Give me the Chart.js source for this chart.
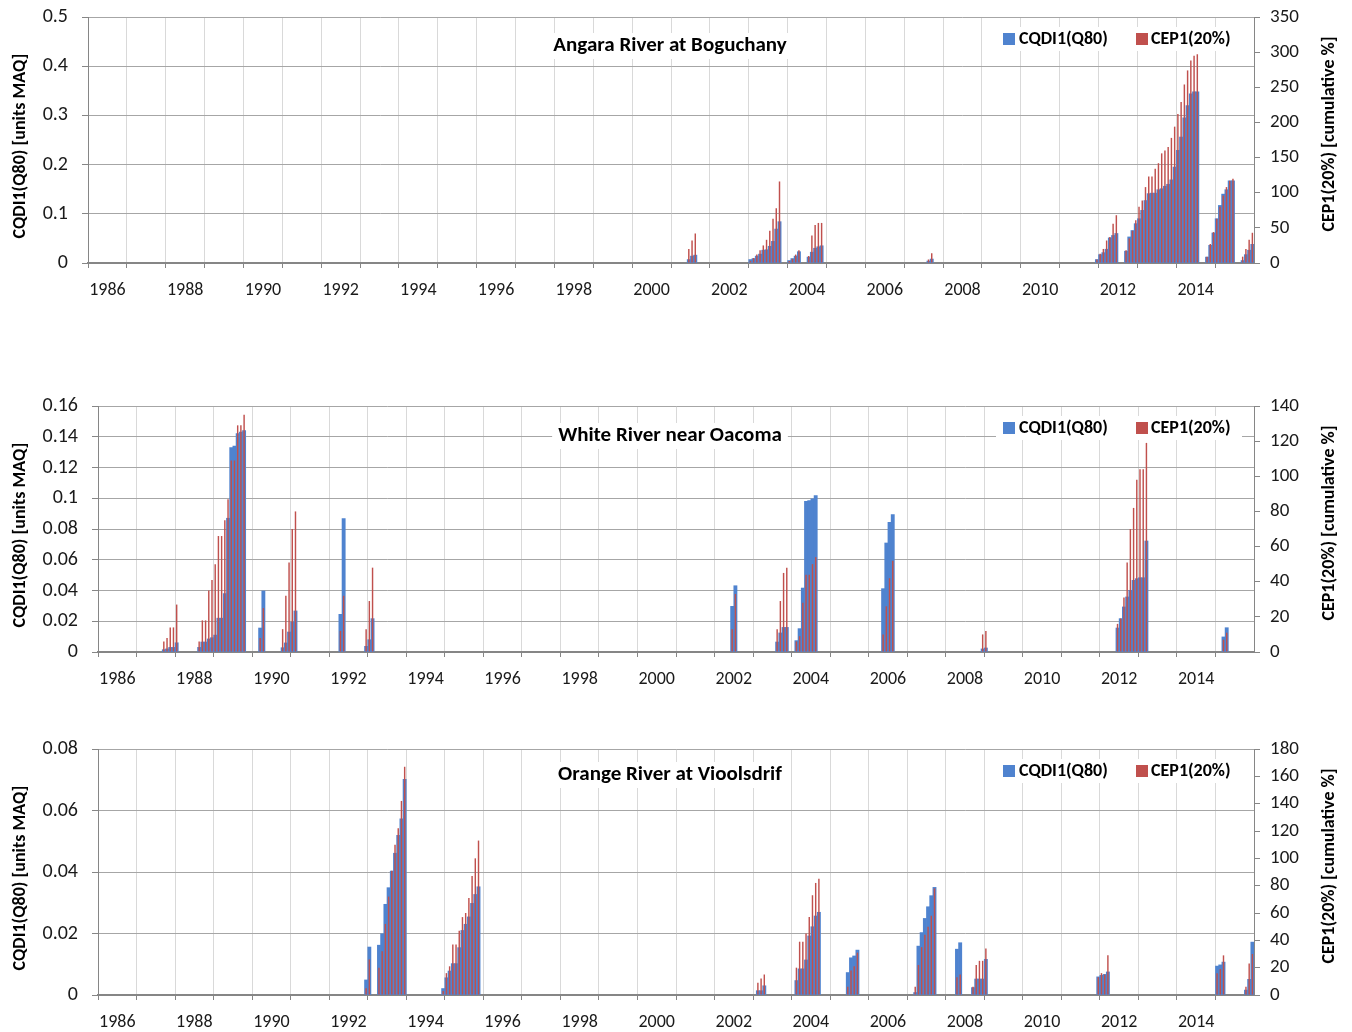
<!DOCTYPE html>
<html>
<head>
<meta charset="utf-8">
<script src="https://cdn.jsdelivr.net/npm/chart.js@4.4.1/dist/chart.umd.min.js"></script>
<style>
  body { margin: 0; background: #fff; width: 1352px; height: 1032px; overflow: hidden; position: relative; }
  canvas { position: absolute; left: 0; }
</style>
</head>
<body>
<canvas id="c1" width="1352" height="310" style="top:0px"></canvas>
<canvas id="c2" width="1352" height="310" style="top:390px"></canvas>
<canvas id="c3" width="1352" height="299" style="top:733px"></canvas>
<script>
// monthly categories Jan 1986 .. Dec 2015
const months = [];
for (let y = 1986; y <= 2015; y++) {
  for (let m = 1; m <= 12; m++) months.push(y + '-' + (m < 10 ? '0' + m : m));
}

// Angara River at Boguchany - each run of months starts at the given month
const angaraStarts = ['2001-06', '2003-01', '2004-01', '2004-07', '2007-08', '2011-12', '2012-09', '2014-10', '2015-09'];
const angaraQ80 = [
  [0.007, 0.014, 0.016],
  [0.007, 0.009, 0.014, 0.018, 0.026, 0.027, 0.034, 0.044, 0.069, 0.084],
  [0.005, 0.009, 0.014, 0.023],
  [0.012, 0.022, 0.030, 0.033, 0.035],
  [0.004, 0.008],
  [0.007, 0.017, 0.021, 0.028, 0.051, 0.056, 0.060],
  [0.024, 0.053, 0.066, 0.080, 0.090, 0.107, 0.127, 0.141, 0.142, 0.142, 0.149, 0.151, 0.156, 0.160, 0.169, 0.195, 0.229, 0.256, 0.295, 0.320, 0.344, 0.348, 0.348],
  [0.012, 0.036, 0.061, 0.090, 0.117, 0.140, 0.149, 0.167, 0.167],
  [0.005, 0.017, 0.026, 0.038]
];
const angaraCEP = [
  [20, 32, 42],
  [3, 7, 12, 18, 25, 33, 46, 63, 78, 116],
  [3, 6, 12, 18],
  [10, 39, 54, 57, 57],
  [5, 14],
  [5, 13, 20, 32, 37, 56, 68],
  [18, 35, 46, 61, 80, 89, 108, 123, 123, 134, 142, 156, 160, 165, 178, 194, 212, 229, 254, 274, 288, 295, 297],
  [9, 27, 44, 63, 80, 96, 108, 117, 120],
  [9, 20, 33, 43]
];

// White River near Oacoma
const whiteStarts = ['1987-09', '1988-08', '1990-03', '1990-10', '1992-04', '1992-12', '2002-06', '2003-08', '2004-02', '2006-05', '2008-12', '2012-06', '2015-03'];
const whiteQ80 = [
  [0.0015, 0.002, 0.003, 0.003, 0.006],
  [0.003, 0.0065, 0.0065, 0.0085, 0.0093, 0.011, 0.022, 0.022, 0.038, 0.087, 0.133, 0.134, 0.142, 0.143, 0.144],
  [0.0156, 0.0397],
  [0.0028, 0.0059, 0.013, 0.0195, 0.0267],
  [0.0245, 0.0867],
  [0.0037, 0.008, 0.0217],
  [0.0297, 0.0431],
  [0.0065, 0.0124, 0.016, 0.016],
  [0.0074, 0.0152, 0.0416, 0.098, 0.0985, 0.0997, 0.1017],
  [0.0412, 0.0709, 0.0843, 0.0893],
  [0.002, 0.0026],
  [0.0156, 0.0217, 0.0293, 0.0358, 0.0401, 0.0466, 0.0477, 0.0483, 0.0483, 0.0722],
  [0.0098, 0.0158]
];
const whiteCEP = [
  [6, 8, 14, 14, 27],
  [6, 18, 18, 35, 41, 50, 66, 66, 75, 87, 109, 109, 129, 129, 135],
  [8, 25],
  [13, 32, 51, 70, 80],
  [12, 32],
  [13, 29, 48],
  [13, 33],
  [13, 29, 45, 48],
  [6, 9, 28, 44, 44, 50, 54],
  [10, 26, 42, 52],
  [10, 12],
  [16, 19, 31, 51, 70, 82, 98, 104, 104, 119],
  [7, 11]
];

// Orange River at Vioolsdrif
const orangeStarts = ['1992-12', '1993-04', '1994-12', '2003-02', '2004-02', '2005-06', '2007-03', '2008-04', '2008-09', '2011-12', '2015-01', '2015-10'];
const orangeQ80 = [
  [0.0049, 0.0156],
  [0.0162, 0.0199, 0.0295, 0.0349, 0.0403, 0.0461, 0.0519, 0.0573, 0.0701],
  [0.0021, 0.0056, 0.0078, 0.0102, 0.0102, 0.0154, 0.021, 0.023, 0.0254, 0.0298, 0.0327, 0.0352],
  [0.0014, 0.0014, 0.003],
  [0.0047, 0.0085, 0.0085, 0.0114, 0.0192, 0.0222, 0.0257, 0.0269],
  [0.0073, 0.0121, 0.0127, 0.0146],
  [0.0008, 0.0159, 0.0203, 0.0249, 0.0287, 0.0323, 0.035],
  [0.0149, 0.017],
  [0.0024, 0.0052, 0.0052, 0.0052, 0.0116],
  [0.0059, 0.0064, 0.0067, 0.0075],
  [0.0094, 0.0098, 0.0107],
  [0.0016, 0.0051, 0.0172]
];
const orangeCEP = [
  [5, 26],
  [20, 32, 52, 72, 91, 110, 122, 142, 167],
  [3, 16, 21, 37, 37, 47, 57, 60, 71, 87, 100, 113],
  [9, 12, 15],
  [20, 39, 39, 45, 57, 73, 82, 85],
  [6, 18, 21, 31],
  [6, 22, 35, 44, 50, 58, 78],
  [13, 15],
  [6, 22, 25, 25, 34],
  [13, 16, 15, 29],
  [16, 19, 29],
  [6, 23, 30]
];

const FONT = 'Carlito, Lato, sans-serif';
const BLUE = '#4f83cf';
const RED = '#c0504d';
const AXIS = '#868686';

function fill(starts, vals) {
  const out = months.map(() => null);
  starts.forEach((s, k) => {
    const i = months.indexOf(s);
    vals[k].forEach((v, j) => { out[i + j] = v; });
  });
  return out;
}

function makeChart(id, cfg) {
  const canvas = document.getElementById(id);
  const plotH = 246;
  const pxMonth = (1352 - cfg.left - 98) / months.length;

  const textPlugin = {
    id: 'panelText',
    beforeDatasetsDraw(chart) {
      const ctx = chart.ctx;
      const ca = chart.chartArea;
      ctx.save();
      // title
      ctx.font = 'bold 21px ' + FONT;
      const tw = ctx.measureText(cfg.title).width;
      const ty = ca.top + cfg.titleDy;
      ctx.fillStyle = '#fff';
      ctx.fillRect(670 - tw / 2 - 6, ty - 13, tw + 12, 26);
      ctx.fillStyle = '#000';
      ctx.textAlign = 'center';
      ctx.textBaseline = 'middle';
      ctx.fillText(cfg.title, 670, ty);
      // legend
      const ly = ca.top + 22;
      ctx.fillStyle = '#fff';
      ctx.fillRect(996, ly - 12, 246, 24);
      ctx.font = 'bold 18px ' + FONT;
      ctx.textAlign = 'left';
      ctx.fillStyle = BLUE;
      ctx.fillRect(1003, ly - 6, 12, 12);
      ctx.fillStyle = RED;
      ctx.fillRect(1136, ly - 6, 12, 12);
      ctx.fillStyle = '#000';
      ctx.fillText('CQDI1(Q80)', 1019, ly);
      ctx.fillText('CEP1(20%)', 1151, ly);
      ctx.restore();
    },
    afterDraw(chart) {
      const ctx = chart.ctx;
      const ca = chart.chartArea;
      const mid = (ca.top + ca.bottom) / 2;
      ctx.save();
      ctx.font = 'bold 18px ' + FONT;
      ctx.fillStyle = '#000';
      ctx.textAlign = 'center';
      ctx.textBaseline = 'middle';
      ctx.translate(20, mid + 6);
      ctx.rotate(-Math.PI / 2);
      ctx.fillText('CQDI1(Q80) [units MAQ]', 0, 0);
      ctx.restore();
      ctx.save();
      ctx.font = 'bold 18px ' + FONT;
      ctx.fillStyle = '#000';
      ctx.textAlign = 'center';
      ctx.textBaseline = 'middle';
      ctx.translate(1329, mid - 6);
      ctx.rotate(-Math.PI / 2);
      ctx.fillText('CEP1(20%) [cumulative %]', 0, 0);
      ctx.restore();
    }
  };

  return new Chart(canvas, {
    type: 'bar',
    data: {
      labels: months,
      datasets: [
        {
          label: 'CEP1(20%)',
          data: fill(cfg.starts, cfg.cep),
          yAxisID: 'y1',
          backgroundColor: RED,
          barPercentage: 0.45,
          categoryPercentage: 1,
          grouped: false,
          order: 0
        },
        {
          label: 'CQDI1(Q80)',
          data: fill(cfg.starts, cfg.q80),
          yAxisID: 'y',
          backgroundColor: BLUE,
          barPercentage: 1,
          categoryPercentage: 1,
          grouped: false,
          order: 1
        }
      ]
    },
    options: {
      responsive: false,
      animation: false,
      layout: { padding: { top: cfg.top, left: 0, right: 0, bottom: 0 } },
      plugins: { legend: { display: false }, tooltip: { enabled: false } },
      scales: {
        x: {
          grid: {
            offset: true,
            color: c => (c.index % 12 === 0 ? '#d9d9d9' : 'rgba(0,0,0,0)'),
            tickColor: c => (c.index % 12 === 0 ? AXIS : 'rgba(0,0,0,0)'),
            tickLength: 5
          },
          border: { color: AXIS, width: 2 },
          ticks: {
            autoSkip: false,
            maxRotation: 0,
            minRotation: 0,
            padding: 12,
            labelOffset: 5.5 * pxMonth,
            color: '#1a1a1a',
            font: { family: FONT, size: 18 },
            callback: (v, i) => (i % 24 === 0 ? String(1986 + i / 12) : '')
          },
          afterFit: s => {
            s.height = canvas.height - cfg.top - plotH;
            s.paddingLeft = 0; s.paddingRight = 0;
          }
        },
        y: {
          position: 'left',
          min: 0,
          max: cfg.qMax,
          ticks: {
            stepSize: cfg.qStep,
            padding: 14,
            color: '#1a1a1a',
            font: { family: FONT, size: 20 },
            callback: v => String(+v.toFixed(3))
          },
          grid: { color: '#a6a6a6', tickColor: AXIS, tickLength: 6 },
          border: { color: AXIS },
          afterFit: s => {
            s.width = cfg.left;
            s.paddingTop = 0; s.paddingBottom = 0;
          }
        },
        y1: {
          position: 'right',
          min: 0,
          max: cfg.cMax,
          ticks: {
            stepSize: cfg.cStep,
            padding: 10,
            color: '#1a1a1a',
            font: { family: FONT, size: 19 }
          },
          grid: { drawOnChartArea: false, tickColor: AXIS, tickLength: 6 },
          border: { color: AXIS },
          afterFit: s => {
            s.width = 98;
            s.paddingTop = 0; s.paddingBottom = 0;
          }
        }
      }
    },
    plugins: [textPlugin]
  });
}

makeChart('c1', {
  title: 'Angara River at Boguchany', titleDy: 29, top: 17, left: 88,
  starts: angaraStarts, q80: angaraQ80, cep: angaraCEP,
  qMax: 0.5, qStep: 0.1, cMax: 350, cStep: 50
});
makeChart('c2', {
  title: 'White River near Oacoma', titleDy: 30, top: 16, left: 98,
  starts: whiteStarts, q80: whiteQ80, cep: whiteCEP,
  qMax: 0.16, qStep: 0.02, cMax: 140, cStep: 20
});
makeChart('c3', {
  title: 'Orange River at Vioolsdrif', titleDy: 26, top: 16, left: 98,
  starts: orangeStarts, q80: orangeQ80, cep: orangeCEP,
  qMax: 0.08, qStep: 0.02, cMax: 180, cStep: 20
});
</script>
</body>
</html>
